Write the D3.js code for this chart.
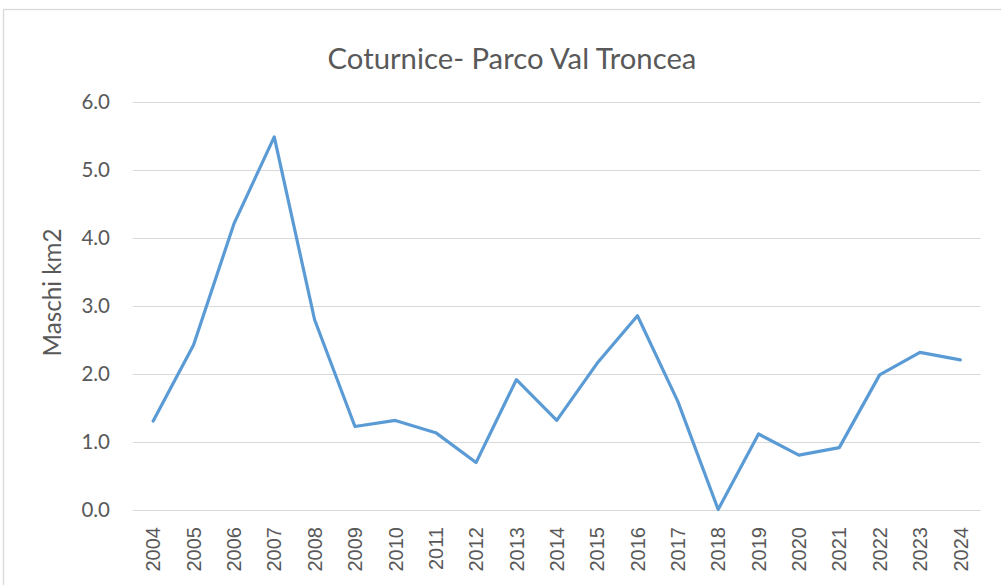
<!DOCTYPE html>
<html>
<head>
<meta charset="utf-8">
<script src="https://cdn.jsdelivr.net/npm/d3@7"></script>
<style>
  html, body { margin: 0; padding: 0; background: #fff; }
  svg { display: block; }
</style>
</head>
<body>
<svg id="chart" width="1001" height="585"></svg>
<script>
const titleText = "Coturnice- Parco Val Troncea";
const yAxisTitle = "Maschi km2";
const years = ["2004","2005","2006","2007","2008","2009","2010","2011","2012","2013","2014",
               "2015","2016","2017","2018","2019","2020","2021","2022","2023","2024"];
const values = [1.30, 2.42, 4.20, 5.48, 2.79, 1.22, 1.31, 1.13, 0.69, 1.91, 1.31,
                2.15, 2.85, 1.59, 0.00, 1.11, 0.80, 0.91, 1.98, 2.31, 2.20];
const yTicks = [0, 1, 2, 3, 4, 5, 6];

const svg = d3.select("#chart");
const textColor = "#595959";
const gridColor = "#d9d9d9";

// chart frame
svg.append("rect")
  .attr("x", 3.5).attr("y", 9.5)
  .attr("width", 1100).attr("height", 700)
  .attr("fill", "#fff").attr("stroke", gridColor).attr("stroke-width", 1.3);

const plot = { left: 133, right: 980.5, top: 101.5, bottom: 509.5 };

const x = d3.scaleBand().domain(years).range([plot.left, plot.right]).padding(0);
const y = d3.scaleLinear().domain([0, 6]).range([plot.bottom, plot.top]);

// gridlines
svg.append("g").selectAll("line").data(yTicks).join("line")
  .attr("x1", plot.left).attr("x2", plot.right)
  .attr("y1", d => Math.round(y(d)) + 0.5).attr("y2", d => Math.round(y(d)) + 0.5)
  .attr("stroke", gridColor).attr("stroke-width", 1.2);

// y axis
const yAxis = svg.append("g")
  .attr("transform", `translate(${plot.left},0)`)
  .call(d3.axisLeft(y).tickValues(yTicks).tickFormat(d3.format(".1f")).tickSize(0).tickPadding(23));
yAxis.select(".domain").remove();
yAxis.selectAll("text")
  .attr("fill", textColor)
  .style("font-family", "Lato, 'Open Sans', sans-serif")
  .style("font-size", "20.5px");

// x axis
const xAxis = svg.append("g")
  .attr("transform", `translate(0,${plot.bottom})`)
  .call(d3.axisBottom(x).tickSize(0));
xAxis.select(".domain").remove();
xAxis.selectAll("text")
  .attr("fill", textColor)
  .style("font-family", "'Liberation Sans', Arial, sans-serif")
  .style("font-size", "20px")
  .attr("transform", "rotate(-90)")
  .attr("text-anchor", "end")
  .attr("x", -17.5)
  .attr("y", 0)
  .attr("dy", "0.36em");

// line
const line = d3.line()
  .x((d, i) => x(years[i]) + x.bandwidth() / 2)
  .y(d => y(d));
svg.append("path")
  .datum(values)
  .attr("d", line)
  .attr("fill", "none")
  .attr("stroke", "#5b9bd5")
  .attr("stroke-width", 3.2)
  .attr("stroke-linejoin", "round")
  .attr("stroke-linecap", "round");

// fit helper
function fitText(sel, targetWidth) {
  const base = parseFloat(sel.style("font-size"));
  const w = sel.node().getComputedTextLength();
  sel.style("font-size", (base * targetWidth / w) + "px");
}

// title
const t = svg.append("text")
  .attr("x", 512).attr("y", 69)
  .attr("text-anchor", "middle")
  .attr("fill", textColor)
  .style("font-family", "Lato, 'Open Sans', sans-serif")
  .style("font-size", "28px")
  .text(titleText);
fitText(t, 369);

// y axis title
const yt = svg.append("text")
  .attr("transform", "translate(61,292.5) rotate(-90)")
  .attr("text-anchor", "middle")
  .attr("fill", textColor)
  .style("font-family", "Lato, 'Open Sans', sans-serif")
  .style("font-size", "25px")
  .text(yAxisTitle);
fitText(yt, 128);
</script>
</body>
</html>
